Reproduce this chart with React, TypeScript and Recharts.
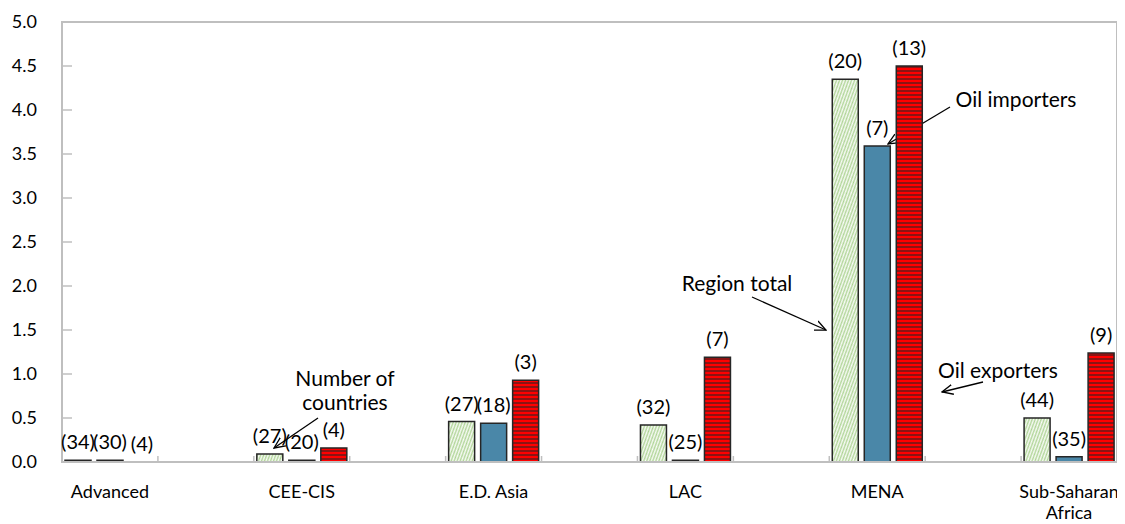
import { BarChart, Bar, XAxis, YAxis, LabelList, Customized, Text, Cell } from 'recharts';

// blank entries are the spacer categories between regions
const categories = ['Advanced', '', 'CEE-CIS', '', 'E.D. Asia', '', 'LAC', '', 'MENA', '', 'Sub-Saharan Africa'];
const regionTotal = [0.02, null, 0.09, null, 0.46, null, 0.42, null, 4.35, null, 0.5];
const oilImporters = [0.02, null, 0.02, null, 0.44, null, 0.02, null, 3.59, null, 0.06];
const oilExporters = [0, null, 0.16, null, 0.93, null, 1.19, null, 4.5, null, 1.24];
const nTotal = [34, null, 27, null, 27, null, 32, null, 20, null, 44];
const nImporters = [30, null, 20, null, 18, null, 25, null, 7, null, 35];
const nExporters = [4, null, 4, null, 3, null, 7, null, 13, null, 9];
const yTicks = [0, 0.5, 1, 1.5, 2, 2.5, 3, 3.5, 4, 4.5, 5];

const data = categories.map((name, i) => ({
  name,
  total: regionTotal[i],
  importers: oilImporters[i],
  exporters: oilExporters[i],
  nTotal: nTotal[i],
  nImporters: nImporters[i],
  nExporters: nExporters[i],
}));

const W = 1117;
const H = 516;
const MARGIN = { top: 14, right: 8, bottom: 0, left: 0 };
const Y_AXIS_W = 54;
const X_AXIS_H = 62;
const plotLeft = MARGIN.left + Y_AXIS_W;
const plotTop = MARGIN.top;
const plotW = W - plotLeft - MARGIN.right;
const plotH = H - plotTop - X_AXIS_H;

const FONT = 'Lato, "Open Sans", sans-serif';
const GRID = '#bfbfbf';
const EDGE = '#262626';
const labelStyle = { fontFamily: FONT, fontSize: 20, fill: '#000' };

const fmtCount = (v: any) => (v == null ? '' : `(${v})`);

function CategoryTick(props: any) {
  const { x, y, payload } = props;
  if (!payload.value) return null;
  return (
    <Text x={x} y={y} width={100} textAnchor="middle" verticalAnchor="start" lineHeight={21}
      style={{ fontFamily: FONT, fontSize: 18, fill: '#000' }}>
      {payload.value}
    </Text>
  );
}

function Frame() {
  const step = plotW / categories.length;
  const xTicks = Array.from({ length: categories.length + 1 }, (_, i) => plotLeft + i * step);
  return (
    <g>
      <rect x={plotLeft} y={plotTop} width={plotW} height={plotH} fill="none" stroke={GRID} strokeWidth={2} />
      {yTicks.map((t) => {
        const y = plotTop + plotH * (1 - t / 5);
        return <line key={t} x1={plotLeft} x2={plotLeft + 10} y1={y} y2={y} stroke={GRID} strokeWidth={1.5} />;
      })}
      {xTicks.map((x, i) => (
        <line key={i} x1={x} x2={x} y1={plotTop + plotH} y2={plotTop + plotH - 6} stroke={GRID} strokeWidth={1.5} />
      ))}
    </g>
  );
}

function Notes() {
  const txt = { fontFamily: FONT, fontSize: 21, fill: '#000', textAnchor: 'middle' as const, dominantBaseline: 'central' as const };
  return (
    <g>
      <text x={337} y={369} {...txt}>Number of</text>
      <text x={337} y={393} {...txt}>countries</text>
      <line x1={310} y1={410} x2={266} y2={440} stroke="#000" strokeWidth={1.3} markerEnd="url(#arrow)" />

      <text x={729} y={274} {...txt}>Region total</text>
      <line x1={744} y1={289} x2={818} y2={322} stroke="#000" strokeWidth={1.3} markerEnd="url(#arrow)" />

      <text x={1008} y={90} {...txt}>Oil importers</text>
      <line x1={942} y1={99} x2={880} y2={136} stroke="#000" strokeWidth={1.3} markerEnd="url(#arrow)" />

      <text x={990} y={361} {...txt}>Oil exporters</text>
      <line x1={975} y1={374} x2={934} y2={384} stroke="#000" strokeWidth={1.3} markerEnd="url(#arrow)" />

      <line x1={874} y1={297} x2={859} y2={324} stroke="#5b8fd6" strokeWidth={1.2} opacity={0.7} markerEnd="url(#arrowBlue)" />
    </g>
  );
}

export default function App() {
  return (
    <div style={{ width: W, height: H }}>
      <BarChart width={W} height={H} data={data} margin={MARGIN} barCategoryGap={3} barGap={6}>
        <defs>
          <pattern id="hatchGreen" width="4" height="4" patternUnits="userSpaceOnUse" patternTransform="rotate(-25)">
            <rect width="4" height="4" fill="#ffffff" />
            <line x1="0" y1="4" x2="4" y2="0" stroke="#a9d18e" strokeWidth="1.3" />
            <line x1="-1" y1="1" x2="1" y2="-1" stroke="#a9d18e" strokeWidth="1.3" />
            <line x1="3" y1="5" x2="5" y2="3" stroke="#a9d18e" strokeWidth="1.3" />
          </pattern>
          <pattern id="stripeRed" width="4" height="4" patternUnits="userSpaceOnUse">
            <rect width="4" height="2" fill="#ff0000" />
            <rect y="2" width="4" height="2" fill="#8b1414" />
          </pattern>
          <marker id="arrow" viewBox="0 0 12 12" refX="11" refY="6" markerWidth="12" markerHeight="12"
            markerUnits="userSpaceOnUse" orient="auto">
            <polyline points="0,1 11,6 0,11" fill="none" stroke="#000" strokeWidth="1.3" />
          </marker>
          <marker id="arrowBlue" viewBox="0 0 12 12" refX="11" refY="6" markerWidth="12" markerHeight="12"
            markerUnits="userSpaceOnUse" orient="auto">
            <polyline points="0,1 11,6 0,11" fill="none" stroke="#5b8fd6" strokeWidth="1.2" />
          </marker>
        </defs>
        <XAxis dataKey="name" height={X_AXIS_H} interval={0} tick={<CategoryTick />} tickLine={false}
          tickSize={0} tickMargin={23} axisLine={{ stroke: GRID, strokeWidth: 2 }} />
        <YAxis width={Y_AXIS_W} domain={[0, 5]} ticks={yTicks} tickFormatter={(v: number) => v.toFixed(1)}
          tickLine={false} tickSize={0} tickMargin={25} axisLine={{ stroke: GRID, strokeWidth: 2 }}
          tick={{ fontFamily: FONT, fontSize: 18, fill: '#000' }} />
        <Customized component={<Frame />} />
        <Bar dataKey="total" fill="url(#hatchGreen)" stroke={EDGE} strokeWidth={1.5} isAnimationActive={false}>
          <LabelList dataKey="nTotal" position="top" offset={11} formatter={fmtCount} style={labelStyle} />
        </Bar>
        <Bar dataKey="importers" fill="#4a87a8" stroke={EDGE} strokeWidth={1.5} isAnimationActive={false}>
          <LabelList dataKey="nImporters" position="top" offset={11} formatter={fmtCount} style={labelStyle} />
        </Bar>
        <Bar dataKey="exporters" fill="url(#stripeRed)" stroke={EDGE} strokeWidth={1.5}
          minPointSize={(v: any) => (v === 0 ? 0.01 : 0)} isAnimationActive={false}>
          {data.map((d, i) => (
            <Cell key={i} stroke={d.exporters === 0 ? 'none' : EDGE} fill={d.exporters === 0 ? 'none' : 'url(#stripeRed)'} />
          ))}
          <LabelList dataKey="nExporters" position="top" offset={11} formatter={fmtCount} style={labelStyle} />
        </Bar>
        <Customized component={<Notes />} />
      </BarChart>
    </div>
  );
}
